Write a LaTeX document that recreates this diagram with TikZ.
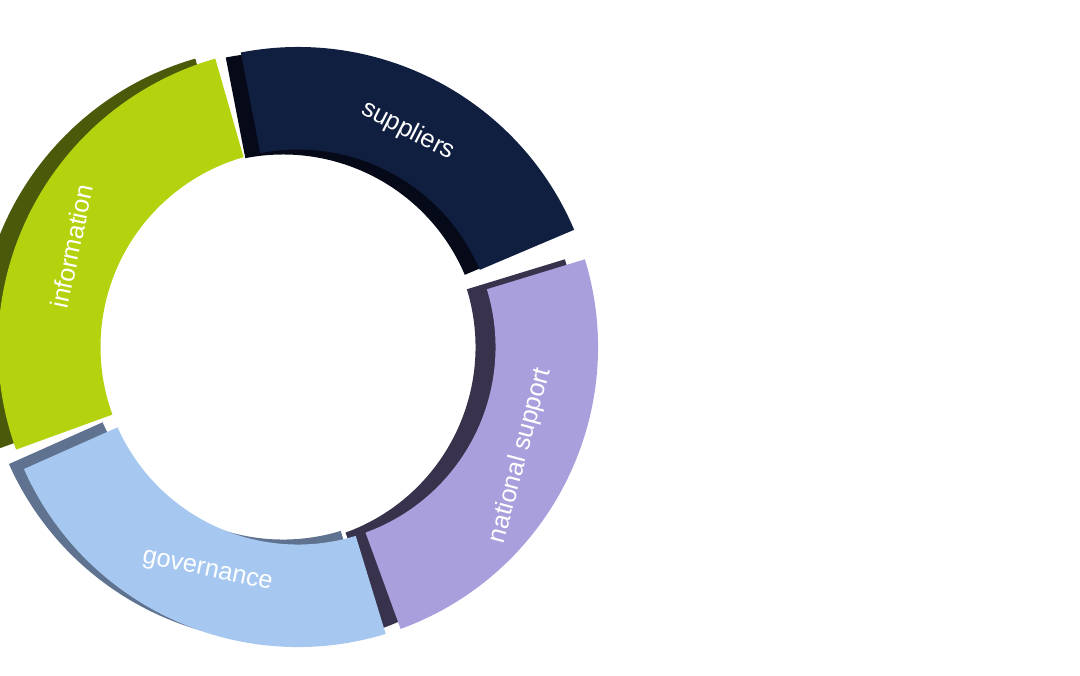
\documentclass[tikz,border=0pt]{standalone}
\usepackage{fontspec}
\setmainfont{Liberation Sans}
\definecolor{infogreen}{RGB}{181,210,14}
\definecolor{infoside}{RGB}{74,90,10}
\definecolor{suppnavy}{RGB}{16,30,64}
\definecolor{suppside}{RGB}{6,10,24}
\definecolor{natpurple}{RGB}{170,159,221}
\definecolor{natside}{RGB}{56,50,77}
\definecolor{govblue}{RGB}{166,200,240}
\definecolor{govside}{RGB}{95,115,144}
\begin{document}
\begin{tikzpicture}[
    seglabel/.style={text=white, font=\Large},
    ringseg/.style 2 args={insert path={(#1:6.0) arc[start angle=#1, end angle=#2, radius=6.0] -- (#2:3.95) arc[start angle=#2, end angle=#1, radius=3.95] -- cycle}}
]
\useasboundingbox (-5.96,-6.56) rectangle (15.64,6.94);

% Information
\fill[infoside, shift={(-0.4,0)}, ringseg={106}{200}];
\fill[infogreen, ringseg={106}{200}];
\node[seglabel, rotate=78] (info) at (156:4.95) {information};

% Suppliers
\fill[suppside, shift={(-0.3,-0.1)}, ringseg={23}{101}];
\fill[suppnavy, ringseg={23}{101}];
\node[seglabel, rotate=-27] (supp) at (63:4.85) {suppliers};

% National support
\fill[natside, shift={(-0.4,0)}, ringseg={-70}{17}];
\fill[natpurple, ringseg={-70}{17}];
\node[seglabel, rotate=75] (nat) at (-26:4.95) {national support};

% Governance
\fill[govside, shift={(-0.3,0.1)}, ringseg={204}{287}];
\fill[govblue, ringseg={204}{287}];
\node[seglabel, rotate=-12] (gov) at (248:4.85) {governance};

\end{tikzpicture}
\end{document}
